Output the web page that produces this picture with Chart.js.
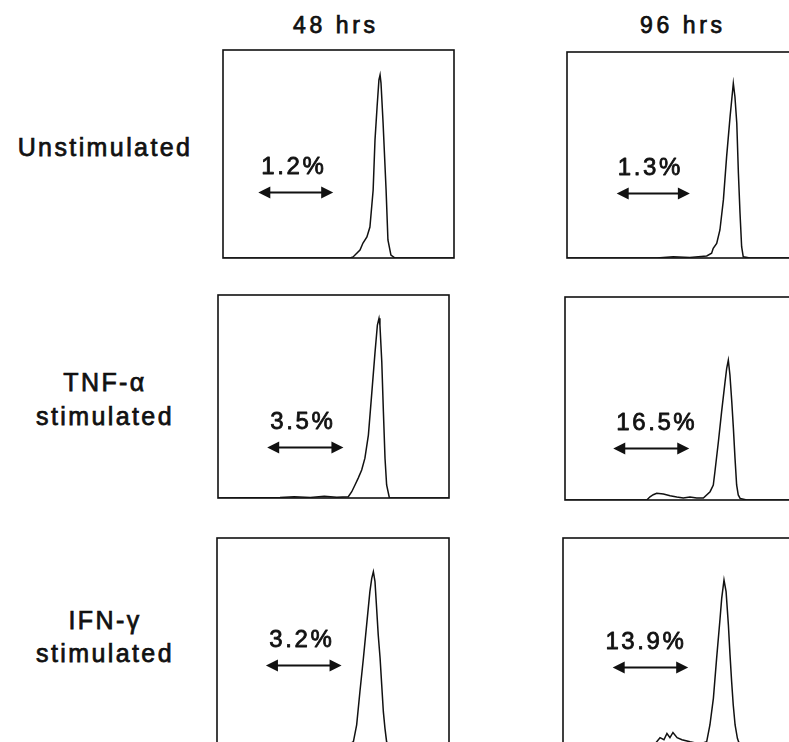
<!DOCTYPE html>
<html>
<head>
<meta charset="utf-8">
<script src="https://cdn.jsdelivr.net/npm/chart.js@4.4.0/dist/chart.umd.min.js"></script>
<style>
    html, body { margin: 0; padding: 0; width: 789px; height: 742px; overflow: hidden; background: #fff; }
    .panel { position: absolute; }
    .lbl {
        position: absolute; font-family: "Liberation Sans", Arial, sans-serif; font-weight: normal;
        color: #111; -webkit-text-stroke: 0.75px #111; white-space: nowrap; line-height: 1;
    }
    .col { font-size: 23px; letter-spacing: 3.6px; }
    .row { font-size: 25px; letter-spacing: 2.4px; text-align: center; width: 220px; }
</style>
</head>
<body>
<div class="lbl col" style="left:293px; top:14px;">48 hrs</div>
<div class="lbl col" style="left:640px; top:14px;">96 hrs</div>

<div class="lbl row" style="left:-5px; top:135px;">Unstimulated</div>
<div class="lbl row" style="left:-5px; top:370px;">TNF-α</div>
<div class="lbl row" style="left:-5px; top:404px;">stimulated</div>
<div class="lbl row" style="left:-5px; top:608px;">IFN-γ</div>
<div class="lbl row" style="left:-5px; top:641px;">stimulated</div>

<div class="panel" id="p0"><canvas></canvas></div>
<div class="panel" id="p1"><canvas></canvas></div>
<div class="panel" id="p2"><canvas></canvas></div>
<div class="panel" id="p3"><canvas></canvas></div>
<div class="panel" id="p4"><canvas></canvas></div>
<div class="panel" id="p5"><canvas></canvas></div>

<script>
// fluorescence channel (0-100) and relative cell count (% of panel height)
const chUnstim48 = [0, 50, 55.0, 56.3, 59.3, 60.6, 62.3, 63.6, 65.0, 65.8, 66.7, 67.5, 68.0, 68.4, 69.3, 70.6, 71.4, 72.7, 74.5, 100];
const cntUnstim48 = [0, 0, 0, 0.5, 3.8, 7.2, 10.1, 14.9, 32.7, 56.7, 72.6, 85.6, 88.0, 84.1, 64.9, 32.7, 8.7, 1.4, 0, 0];

const chUnstim96 = [0, 38.8, 46, 53.2, 60.5, 62.6, 63.3, 64.8, 66.2, 67.7, 69.1, 70.6, 71.3, 72.0, 72.7, 73.5, 74.2, 74.9, 75.6, 76.3, 79.2, 100];
const cntUnstim96 = [0, 0, 0.6, 0.3, 1.0, 2.3, 4.7, 7.1, 13.6, 28.2, 49.2, 68.6, 76.7, 84.8, 78.3, 65.4, 41.1, 21.7, 5.5, 0.6, 0, 0];

const chTnf48 = [0, 26.8, 33, 40, 46, 51.4, 56.4, 57.9, 59.3, 60.7, 62.2, 63.6, 65.1, 66.5, 68.0, 69.0, 69.7, 70.1, 70.9, 71.6, 72.3, 73.0, 74.2, 100];
const cntTnf48 = [0, 0.3, 0.6, 0.3, 0.9, 0.4, 0.6, 3.1, 6.4, 9.8, 13.8, 19.6, 31.0, 50.7, 72.1, 85.2, 88.5, 85.2, 67.1, 42.5, 19.6, 6.4, 0, 0];

const chTnf96 = [0, 35.4, 36.8, 38.2, 39.7, 42.6, 45.5, 48.4, 51.2, 54.1, 57.0, 59.9, 62.8, 64.2, 64.9, 66.4, 67.8, 69.3, 70.0, 70.7, 71.4, 72.2, 72.9, 73.6, 74.3, 75.0, 75.8, 78.7, 100];
const cntTnf96 = [0, 0, 1.6, 2.6, 3.3, 3.0, 2.1, 1.5, 1.0, 1.5, 1.0, 1.0, 4.1, 7.4, 13.9, 28.7, 43.5, 58.3, 64.9, 68.9, 61.6, 48.4, 35.3, 20.5, 7.4, 2.5, 0.8, 0, 0];

const chIfn48 = [0, 53.9, 56.5, 58.8, 60.2, 61.6, 63.1, 64.5, 65.9, 66.7, 67.4, 68.1, 68.8, 69.5, 70.3, 71.0, 71.7, 72.4, 73.1, 74.6, 100];
const cntIfn48 = [0, 0, 0.5, 2.1, 10.2, 26.1, 42.2, 58.2, 74.2, 80.6, 83.8, 79.0, 66.2, 53.4, 42.2, 29.3, 16.5, 8.5, 2.1, 0, 0];

const chIfn96 = [0, 38, 39.8, 42.0, 43.7, 45.0, 46.3, 47.6, 49.4, 51.5, 55.0, 59.3, 62.2, 63.6, 65.1, 66.5, 68.0, 68.7, 69.7, 70.6, 71.6, 72.3, 73.0, 73.7, 74.5, 75.5, 76.0, 77.5, 100];
const cntIfn96 = [0, 0, 1, 4, 3, 6, 4, 6.5, 4, 3, 2, 1, 2.1, 10.1, 22.9, 42.1, 61.4, 71.0, 79.8, 74.2, 58.2, 43.8, 31.0, 19.7, 10.1, 3.7, 2.1, 0, 0];

// gated (low fluorescence) region and its share
const gateFrom = [15.3, 21.5, 21.3, 20.9, 21.1, 21.5];
const gateTo = [47.7, 53.2, 54.3, 53.8, 53.7, 54.2];
const gatePercent = ["1.2%", "1.3%", "3.5%", "16.5%", "3.2%", "13.9%"];

const channels = [chUnstim48, chUnstim96, chTnf48, chTnf96, chIfn48, chIfn96];
const counts = [cntUnstim48, cntUnstim96, cntTnf48, cntTnf96, cntIfn48, cntIfn96];

// panel boxes on the page: left, top, width, height, arrow level (% of height), label shift (px)
const boxes = [
    [223, 50, 231, 208, 31.9, -3],
    [567, 52, 231, 206, 31.4, -4],
    [218, 295, 231, 203, 25.3, -3.5],
    [565, 297, 231, 203, 25.5, 4.5],
    [217, 538, 232, 208, 38.9, -3],
    [563, 538, 231, 208, 38.1, -5.5],
];
const PAD = 2;

const framePlugin = {
    id: 'frame',
    beforeDatasetsDraw(chart) {
        const { ctx, chartArea: a } = chart;
        ctx.save();
        ctx.strokeStyle = '#111';
        ctx.lineWidth = 1.6;
        ctx.strokeRect(a.left, a.top, a.right - a.left, a.bottom - a.top);
        ctx.restore();
    }
};

const gatePlugin = {
    id: 'gate',
    afterDatasetsDraw(chart, args, opts) {
        const { ctx, scales: { x, y } } = chart;
        const x1 = x.getPixelForValue(opts.from);
        const x2 = x.getPixelForValue(opts.to);
        const yy = Math.round(y.getPixelForValue(opts.level)) + 0.5;
        const head = 12, half = 6;
        ctx.save();
        ctx.strokeStyle = '#111';
        ctx.fillStyle = '#111';
        ctx.lineWidth = 2.2;
        ctx.beginPath();
        ctx.moveTo(x1 + head - 1, yy);
        ctx.lineTo(x2 - head + 1, yy);
        ctx.stroke();
        ctx.beginPath();
        ctx.moveTo(x1, yy);
        ctx.lineTo(x1 + head, yy - half);
        ctx.lineTo(x1 + head, yy + half);
        ctx.closePath();
        ctx.fill();
        ctx.beginPath();
        ctx.moveTo(x2, yy);
        ctx.lineTo(x2 - head, yy - half);
        ctx.lineTo(x2 - head, yy + half);
        ctx.closePath();
        ctx.fill();

        // percentage of cells inside the gate
        ctx.font = '24px "Liberation Sans", Arial, sans-serif';
        ctx.letterSpacing = '2.6px';
        ctx.textAlign = 'center';
        ctx.textBaseline = 'alphabetic';
        ctx.lineWidth = 0.8;
        ctx.lineJoin = 'round';
        const tx = (x1 + x2) / 2 + opts.shift + 1, ty = yy - 19;
        ctx.fillText(opts.label, tx, ty);
        ctx.strokeText(opts.label, tx, ty);
        ctx.restore();
    }
};

boxes.forEach((b, i) => {
    const [left, top, w, h, level, shift] = b;
    const holder = document.getElementById('p' + i);
    holder.style.left = (left - PAD) + 'px';
    holder.style.top = (top - PAD) + 'px';
    const canvas = holder.querySelector('canvas');
    canvas.width = w + PAD * 2;
    canvas.height = h + PAD * 2;

    const points = channels[i].map((c, k) => ({ x: c, y: counts[i][k] }));

    new Chart(canvas, {
        type: 'scatter',
        data: {
            datasets: [{
                data: points,
                showLine: true,
                borderColor: '#111',
                borderWidth: 1.5,
                pointRadius: 0,
                tension: 0,
                fill: false,
            }],
        },
        options: {
            responsive: false,
            animation: false,
            layout: { padding: PAD },
            scales: {
                x: { type: 'linear', min: 0, max: 100, display: false },
                y: { min: 0, max: 100, display: false },
            },
            plugins: {
                legend: { display: false },
                tooltip: { enabled: false },
                gate: { from: gateFrom[i], to: gateTo[i], level: level, label: gatePercent[i], shift: shift },
            },
        },
        plugins: [framePlugin, gatePlugin],
    });
});
</script>
</body>
</html>
